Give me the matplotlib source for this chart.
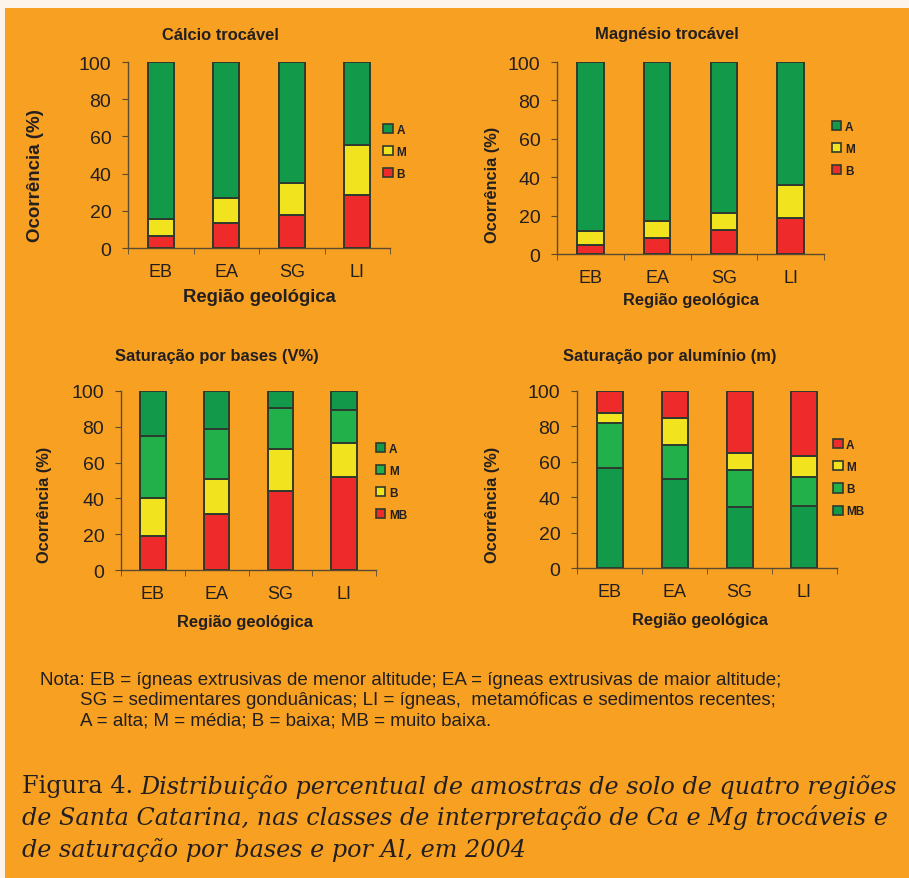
import matplotlib
matplotlib.use('Agg')
import matplotlib.pyplot as plt
from matplotlib.patches import Patch, Rectangle

W, H = 909, 879
BG = '#F7A021'
EDGE = '#2E3A2E'
TXT = '#231F20'

regioes = ['EB', 'EA', 'SG', 'LI']

# Calcio trocavel (%), classes B, M, A
ca_B = [6.5, 13.6, 17.7, 28.7]
ca_M = [9.3, 13.4, 17.3, 26.9]
ca_A = [84.2, 73.0, 65.0, 44.4]

# Magnesio trocavel (%)
mg_B = [4.7, 8.3, 12.5, 18.6]
mg_M = [7.1, 8.9, 8.9, 17.4]
mg_A = [88.2, 82.8, 78.6, 64.0]

# Saturacao por bases (%), classes MB, B, M, A
v_MB = [19.2, 31.2, 44.4, 51.9]
v_B = [20.9, 19.8, 23.0, 19.0]
v_M = [34.9, 27.9, 23.3, 18.5]
v_A = [25.0, 21.1, 9.3, 10.6]

# Saturacao por aluminio (%), classes MB, B, M, A
m_MB = [56.3, 50.3, 34.4, 35.2]
m_B = [25.4, 19.3, 21.0, 16.4]
m_M = [5.6, 15.1, 9.8, 11.9]
m_A = [12.7, 15.3, 34.8, 36.5]

verde = '#12994A'
verde2 = '#22B04B'
amarelo = '#F2E31F'
vermelho = '#EE2A2B'

fig = plt.figure(figsize=(W / 100, H / 100), dpi=100)
fig.patch.set_facecolor('#FDF5EC')
fig.add_artist(Rectangle((5 / W, 0), 1, 1 - 9 / H, transform=fig.transFigure,
                         facecolor=BG, edgecolor='none', zorder=0))

SANS = ['Liberation Sans', 'DejaVu Sans']


def painel(box, series, title, tpos, ylpos, xlpos, lsize, leg_anchor, legfs=8.5):
    x0, x1, y0, y1 = box
    ax = fig.add_axes([x0 / W, 1 - y1 / H, (x1 - x0) / W, (y1 - y0) / H])
    ax.set_facecolor('none')
    bottom = [0, 0, 0, 0]
    handles = []
    for vals, cor, lab in series:
        ax.bar(range(4), vals, 0.4, bottom=bottom, color=cor,
               edgecolor=EDGE, linewidth=1.4, zorder=3)
        bottom = [b + v for b, v in zip(bottom, vals)]
        handles.append(Patch(facecolor=cor, edgecolor=EDGE, linewidth=1.2, label=lab))
    ax.set_xlim(-0.5, 3.5)
    ax.set_ylim(0, 100)
    for s in ['top', 'right']:
        ax.spines[s].set_visible(False)
    for s in ['left', 'bottom']:
        ax.spines[s].set_color('#5A4A30')
        ax.spines[s].set_linewidth(1.0)
    ax.set_yticks([0, 20, 40, 60, 80, 100])
    ax.set_xticks(range(4))
    ax.set_xticklabels(regioes, family=SANS, fontsize=13, color=TXT)
    ax.set_xticks([-0.5, 0.5, 1.5, 2.5, 3.5], minor=True)
    ax.tick_params(axis='x', which='major', length=0, pad=11)
    ax.tick_params(axis='x', which='minor', length=4, direction='out', color='#5A4A30')
    ax.tick_params(axis='y', length=4, direction='out', color='#5A4A30', pad=8,
                   labelsize=14, labelcolor=TXT)
    for t in ax.get_yticklabels():
        t.set_family(SANS)
    leg = ax.legend(handles=handles[::-1], loc='center left', bbox_to_anchor=leg_anchor,
                    frameon=False, borderpad=0, borderaxespad=0, handlelength=0.8,
                    handleheight=0.8, handletextpad=0.3, labelspacing=0.85,
                    prop={'family': SANS, 'weight': 'bold', 'size': legfs})
    for t in leg.get_texts():
        t.set_color(TXT)
    fig.text(tpos[0] / W, 1 - tpos[1] / H, title, ha='center', va='center',
             family=SANS, weight='bold', fontsize=11.9, color=TXT)
    fig.text(ylpos[0] / W, 1 - ylpos[1] / H, 'Ocorrência (%)', ha='center', va='center',
             rotation=90, family=SANS, weight='bold', fontsize=lsize[0], color=TXT)
    fig.text(xlpos[0] / W, 1 - xlpos[1] / H, 'Região geológica', ha='center', va='center',
             family=SANS, weight='bold', fontsize=lsize[1], color=TXT)
    return ax


painel((128, 390, 63, 249),
       [(ca_B, vermelho, 'B'), (ca_M, amarelo, 'M'), (ca_A, verde, 'A')],
       'Cálcio trocável', (220, 35), (35, 176), (259, 298), (13.5, 13.3), (0.975, 0.516))
painel((557, 824, 63, 255),
       [(mg_B, vermelho, 'B'), (mg_M, amarelo, 'M'), (mg_A, verde, 'A')],
       'Magnésio trocável', (667, 35), (493, 185), (691, 301), (11.8, 11.9), (1.03, 0.547))
painel((121, 376, 392, 571),
       [(v_MB, vermelho, 'MB'), (v_B, amarelo, 'B'), (v_M, verde2, 'M'), (v_A, verde, 'A')],
       'Saturação por bases (V%)', (217, 356), (45, 505), (245, 623), (11.8, 11.9), (1.0, 0.494))
painel((577, 837, 392, 569),
       [(m_MB, verde, 'MB'), (m_B, verde2, 'B'), (m_M, amarelo, 'M'), (m_A, vermelho, 'A')],
       'Saturação por alumínio (m)', (670, 356), (493, 505), (700, 620), (11.8, 11.9), (0.985, 0.508))

# nota
nota = ['Nota: EB = ígneas extrusivas de menor altitude; EA = ígneas extrusivas de maior altitude;',
        'SG = sedimentares gonduânicas; LI = ígneas,  metamóficas e sedimentos recentes;',
        'A = alta; M = média; B = baixa; MB = muito baixa.']
fig.text(40 / W, 1 - 681 / H, nota[0], ha='left', va='center', family=SANS, fontsize=13.5, color=TXT)
fig.text(80 / W, 1 - 701 / H, nota[1], ha='left', va='center', family=SANS, fontsize=13.5, color=TXT)
fig.text(80 / W, 1 - 721 / H, nota[2], ha='left', va='center', family=SANS, fontsize=13.5, color=TXT)

# legenda da figura
SERIF = ['DejaVu Serif']
r = fig.canvas.get_renderer()
t0 = fig.text(22 / W, 1 - 787 / H, 'Figura 4. ', ha='left', va='center', family=SERIF,
              fontsize=17.2, color=TXT)
w0 = t0.get_window_extent(r).width
fig.text((22 + w0) / W, 1 - 787 / H,
         'Distribuição percentual de amostras de solo de quatro regiões',
         ha='left', va='center', family=SERIF, style='italic', fontsize=17.2, color=TXT)
fig.text(22 / W, 1 - 818 / H,
         'de Santa Catarina, nas classes de interpretação de Ca e Mg trocáveis e',
         ha='left', va='center', family=SERIF, style='italic', fontsize=17.2, color=TXT)
fig.text(22 / W, 1 - 850 / H, 'de saturação por bases e por Al, em 2004',
         ha='left', va='center', family=SERIF, style='italic', fontsize=17.2, color=TXT)

fig.savefig('out.png', dpi=100, facecolor=fig.get_facecolor())
